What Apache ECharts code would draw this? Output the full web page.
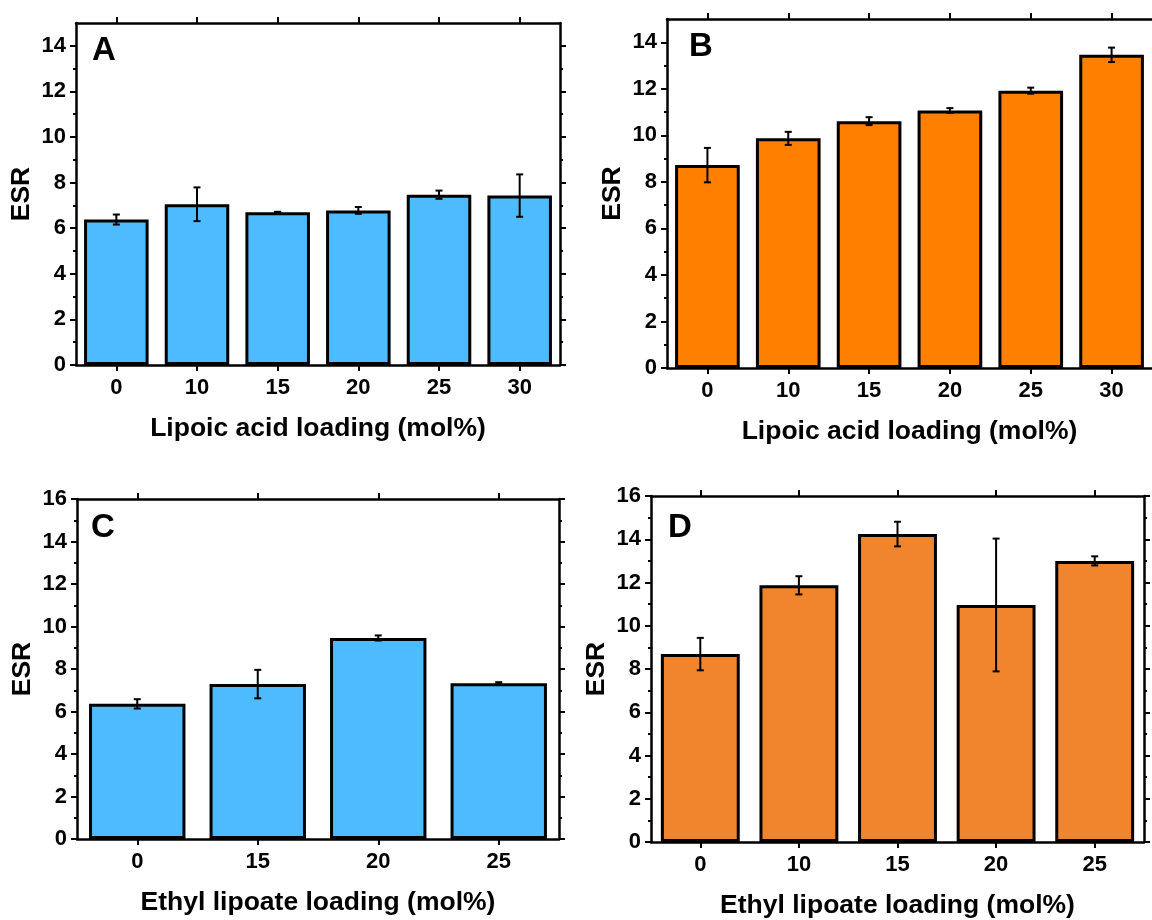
<!DOCTYPE html>
<html>
<head>
<meta charset="utf-8">
<script src="https://cdn.jsdelivr.net/npm/echarts@6/dist/echarts.min.js"></script>
<style>
html,body{margin:0;padding:0;background:#fff;}
#main{width:1152px;height:920px;}
</style>
</head>
<body>
<div id="main"></div>
<script>
// ---- data ----
const catsA = ['0', '10', '15', '20', '25', '30'];
const valsA = [6.38, 7.05, 6.70, 6.78, 7.47, 7.43];
const errA  = [0.22, 0.74, 0.02, 0.15, 0.18, 0.93];

const catsB = ['0', '10', '15', '20', '25', '30'];
const valsB = [8.72, 9.87, 10.61, 11.07, 11.92, 13.46];
const errB  = [0.74, 0.28, 0.17, 0.10, 0.13, 0.31];

const catsC = ['0', '15', '20', '25'];
const valsC = [6.36, 7.29, 9.46, 7.33];
const errC  = [0.22, 0.67, 0.12, 0.05];

const catsD = ['0', '10', '15', '20', '25'];
const valsD = [8.69, 11.87, 14.24, 10.96, 13.00];
const errD  = [0.75, 0.42, 0.57, 3.07, 0.21];

const yTicksAB = [0, 2, 4, 6, 8, 10, 12, 14];
const yTicksCD = [0, 2, 4, 6, 8, 10, 12, 14, 16];
const yMinorAB = [1, 3, 5, 7, 9, 11, 13];
const yMinorCD = [1, 3, 5, 7, 9, 11, 13, 15];

const xNameLA = 'Lipoic acid loading (mol%)';
const xNameEL = 'Ethyl lipoate loading (mol%)';
const yName = 'ESR';

// ---- styling / layout ----
const FONT = '"Liberation Sans", Arial, sans-serif';
const panels = [
  {cats: catsA, vals: valsA, errs: errA, color: '#4FBBFF', ymax: 15, major: yTicksAB, minor: yMinorAB, xname: xNameLA, letter: 'A',
   grid: {left: 76, top: 23, width: 484, height: 342}, lpos: [92, 34], right: true},
  {cats: catsB, vals: valsB, errs: errB, color: '#FF7F00', ymax: 15, major: yTicksAB, minor: yMinorAB, xname: xNameLA, letter: 'B',
   grid: {left: 667, top: 19, width: 487, height: 349}, lpos: [689, 30], right: false},
  {cats: catsC, vals: valsC, errs: errC, color: '#4FBBFF', ymax: 16, major: yTicksCD, minor: yMinorCD, xname: xNameEL, letter: 'C',
   grid: {left: 77, top: 499, width: 482, height: 340}, lpos: [91, 511], right: true},
  {cats: catsD, vals: valsD, errs: errD, color: '#F0852D', ymax: 16, major: yTicksCD, minor: yMinorCD, xname: xNameEL, letter: 'D',
   grid: {left: 651, top: 496, width: 493, height: 349}, lpos: [668, 511], right: true}
];

const grid = [], xAxis = [], yAxis = [], series = [], title = [];
const axLine = {show: true, onZero: false, lineStyle: {color: '#000', width: 2.5}};

panels.forEach((p, gi) => {
  grid.push(Object.assign({containLabel: false}, p.grid));
  // bottom x axis
  const xb = xAxis.length;
  xAxis.push({
    type: 'category', gridIndex: gi, data: p.cats, position: 'bottom',
    axisLine: axLine,
    axisTick: {show: true, alignWithLabel: true, inside: false, length: 6, interval: 0, lineStyle: {width: 2, color: '#000'}},
    axisLabel: {show: true, interval: 0, margin: 12, color: '#000', fontSize: 22, fontWeight: 'bold', fontFamily: FONT},
    name: p.xname, nameLocation: 'middle', nameGap: 50,
    nameTextStyle: {color: '#000', fontSize: 26.5, fontWeight: 'bold', fontFamily: FONT},
    splitLine: {show: false}
  });
  // top x axis (mirror)
  xAxis.push({
    type: 'category', gridIndex: gi, data: p.cats, position: 'top',
    axisLine: axLine,
    axisTick: {show: true, alignWithLabel: true, inside: false, length: 6, interval: 0, lineStyle: {width: 2, color: '#000'}},
    axisLabel: {show: false}, splitLine: {show: false}
  });
  const common = {type: 'value', gridIndex: gi, min: 0, max: p.ymax, splitLine: {show: false}};
  // left major
  const yl = yAxis.length;
  yAxis.push(Object.assign({}, common, {
    position: 'left', axisLine: axLine,
    axisTick: {show: true, inside: false, length: 6, customValues: p.major, lineStyle: {width: 2, color: '#000'}},
    axisLabel: {show: true, margin: 10, customValues: p.major, color: '#000', fontSize: 22, fontWeight: 'bold', fontFamily: FONT},
    name: yName, nameLocation: 'middle', nameGap: 41, nameRotate: 90,
    nameTextStyle: {color: '#000', fontSize: 26.5, fontWeight: 'bold', fontFamily: FONT}
  }));
  // left minor
  yAxis.push(Object.assign({}, common, {
    position: 'left', axisLine: {show: false},
    axisTick: {show: true, inside: false, length: 3, customValues: p.minor, lineStyle: {width: 2, color: '#000'}},
    axisLabel: {show: false}
  }));
  // right major
  yAxis.push(Object.assign({}, common, {
    position: 'right', axisLine: Object.assign({}, axLine, {show: p.right}),
    axisTick: {show: p.right, inside: false, length: 6, customValues: p.major, lineStyle: {width: 2, color: '#000'}},
    axisLabel: {show: false}
  }));
  // right minor
  yAxis.push(Object.assign({}, common, {
    position: 'right', axisLine: {show: false},
    axisTick: {show: p.right, inside: false, length: 3, customValues: p.minor, lineStyle: {width: 2, color: '#000'}},
    axisLabel: {show: false}
  }));

  series.push({
    type: 'bar', xAxisIndex: xb, yAxisIndex: yl, data: p.vals, barWidth: '80%',
    itemStyle: {color: p.color, borderColor: '#000', borderWidth: 3},
    animation: false, silent: true
  });
  series.push({
    type: 'custom', xAxisIndex: xb, yAxisIndex: yl, z: 10, animation: false, silent: true,
    data: p.vals.map((v, i) => [i, v - p.errs[i], v + p.errs[i]]),
    encode: {x: 0, y: [1, 2]},
    renderItem: function (params, api) {
      const i = api.value(0);
      const lo = api.coord([i, api.value(1)]);
      const hi = api.coord([i, api.value(2)]);
      const w = 3.5;
      const st = {stroke: '#000', lineWidth: 2};
      return {type: 'group', children: [
        {type: 'line', shape: {x1: hi[0], y1: hi[1], x2: lo[0], y2: lo[1]}, style: st},
        {type: 'line', shape: {x1: hi[0] - w, y1: hi[1], x2: hi[0] + w, y2: hi[1]}, style: st},
        {type: 'line', shape: {x1: lo[0] - w, y1: lo[1], x2: lo[0] + w, y2: lo[1]}, style: st}
      ]};
    }
  });
  title.push({
    text: p.letter, left: p.lpos[0], top: p.lpos[1], padding: 0,
    textStyle: {color: '#000', fontSize: 33, fontWeight: 'bold', fontFamily: FONT}
  });
});

const chart = echarts.init(document.getElementById('main'), null, {renderer: 'canvas'});
chart.setOption({
  backgroundColor: '#fff',
  animation: false,
  title: title,
  grid: grid,
  xAxis: xAxis,
  yAxis: yAxis,
  series: series
});
</script>
</body>
</html>
